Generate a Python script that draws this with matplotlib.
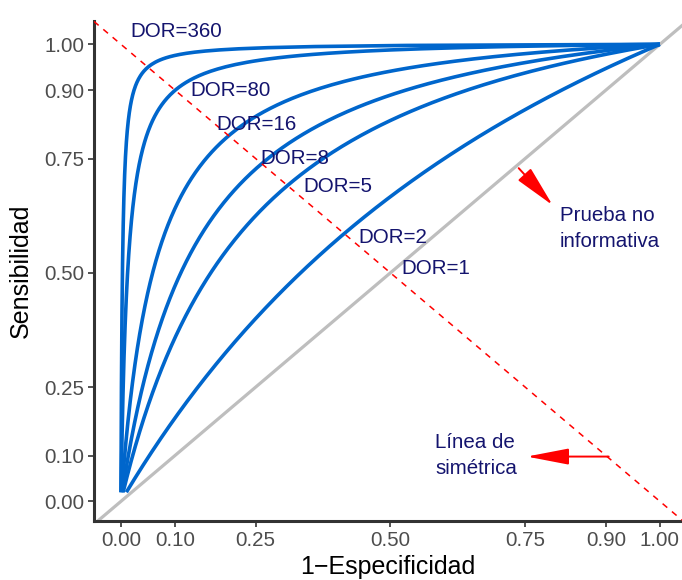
import numpy as np
import matplotlib.pyplot as plt
from matplotlib.lines import Line2D

plt.rcParams['font.family'] = ['Liberation Sans', 'DejaVu Sans']

# diagnostic odds ratios of the ROC curves drawn
dor_values = [2, 5, 8, 16, 80, 360]

# labels for each curve and where they sit (data coords, left aligned)
dor_labels = ['DOR=360', 'DOR=80', 'DOR=16', 'DOR=8', 'DOR=5', 'DOR=2', 'DOR=1']
label_x = [0.017, 0.128, 0.178, 0.258, 0.338, 0.440, 0.521]
label_y = [1.028, 0.899, 0.825, 0.750, 0.689, 0.578, 0.510]

tick_breaks = [0.00, 0.10, 0.25, 0.50, 0.75, 0.90, 1.00]

blue = '#0066CC'
navy = '#14146E'


def roc_curve(dor, sens):
    # points of constant DOR: fpr from sensitivity
    fpr = sens / (sens + dor * (1 - sens))
    return fpr, sens


fig = plt.figure(figsize=(6.82, 5.8), dpi=100)
ax = fig.add_axes([0.1378, 0.1017, 0.8622, 0.8621])

# no informative test (diagonal) and symmetry line
ax.axline((0, 0), (1, 1), color='#BEBEBE', lw=2.3, zorder=1)
ax.axline((0, 1), (1, 0), color='red', lw=1.1, ls=(0, (4, 4)), zorder=3)

sens = np.linspace(0.02, 1.0, 400)
for d in dor_values:
    x, y = roc_curve(d, sens)
    ax.plot(x, y, color=blue, lw=2.6, solid_capstyle='butt', zorder=2)

for lab, lx, ly in zip(dor_labels, label_x, label_y):
    ax.text(lx, ly, lab, color=navy, fontsize=14.8, ha='left', va='center', zorder=4)

# annotations
ax.text(0.8145, 0.597, 'Prueba no\ninformativa', color=navy, fontsize=14.8,
        ha='left', va='center', linespacing=1.45)
ax.annotate('', xy=(0.801, 0.648), xytext=(0.738, 0.729),
            arrowprops=dict(arrowstyle='-|>,head_length=1.3,head_width=0.27',
                            mutation_scale=20, color='red', lw=1.4,
                            shrinkA=0, shrinkB=0))
ax.text(0.583, 0.1007, 'Línea de\nsimétrica', color=navy, fontsize=14.8,
        ha='left', va='center', linespacing=1.45)
ax.annotate('', xy=(0.753, 0.098), xytext=(0.905, 0.098),
            arrowprops=dict(arrowstyle='-|>,head_length=1.3,head_width=0.25',
                            mutation_scale=20, color='red', lw=1.4,
                            shrinkA=0, shrinkB=0))

ax.set_xlim(-0.050, 1.041)
ax.set_ylim(-0.043, 1.051)
ax.set_xticks(tick_breaks)
ax.set_yticks(tick_breaks)
ax.set_xticklabels(['%.2f' % t for t in tick_breaks])
ax.set_yticklabels(['%.2f' % t for t in tick_breaks])

for s in ['top', 'right']:
    ax.spines[s].set_visible(False)
for s in ['left', 'bottom']:
    ax.spines[s].set_linewidth(2.2)
    ax.spines[s].set_color('#333333')
    ax.spines[s].set_capstyle('projecting')
ax.tick_params(axis='both', length=4, width=1.2, color='#333333',
               labelsize=14.8, labelcolor='#4D4D4D', pad=3)

ax.set_xlabel('1\u2212Especificidad', fontsize=18, labelpad=4)
ax.set_ylabel('Sensibilidad', fontsize=18, labelpad=8)

fig.savefig('out.png', dpi=100)
